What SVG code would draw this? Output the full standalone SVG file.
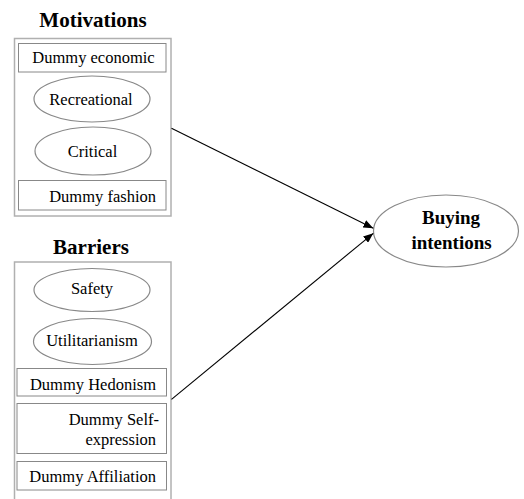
<svg xmlns="http://www.w3.org/2000/svg" width="524" height="499" viewBox="0 0 524 499">
<defs>
<style>
.t{font-family:"Liberation Serif","Times New Roman",serif;font-size:16.5px;fill:#000}
.h{font-family:"Liberation Serif","Times New Roman",serif;font-weight:bold;fill:#000}
.outer{fill:#fff;stroke:#b0b0b0;stroke-width:1.5}
.box{fill:#fff;stroke:#888;stroke-width:1}
.ell{fill:#fff;stroke:#888;stroke-width:1.2}
.edge{stroke:#000;stroke-width:1.1;fill:none;marker-end:url(#ah)}
</style>
<marker id="ah" markerWidth="10" markerHeight="8" refX="10" refY="4" orient="auto" markerUnits="userSpaceOnUse">
<path d="M0,0 L10,4 L0,8 z" fill="#000"/>
</marker>
</defs>
<rect width="524" height="499" fill="#fff"/>

<g id="motivations">
<text class="h" x="93" y="26.5" font-size="21" text-anchor="middle">Motivations</text>
<rect class="outer" x="14.5" y="38.5" width="156.5" height="177.5"/>
</g>
<g id="dummy-economic">
<rect class="box" x="18.5" y="43.5" width="147.5" height="28.5"/>
<text class="t" x="93.5" y="63" text-anchor="middle">Dummy economic</text>
</g>
<g id="recreational">
<ellipse class="ell" cx="92" cy="99" rx="58" ry="23"/>
<text class="t" x="91" y="105" text-anchor="middle">Recreational</text>
</g>
<g id="critical">
<ellipse class="ell" cx="93" cy="151" rx="58" ry="24"/>
<text class="t" x="92.5" y="156.5" text-anchor="middle">Critical</text>
</g>
<g id="dummy-fashion">
<rect class="box" x="18.5" y="180.5" width="147.5" height="29.5"/>
<text class="t" x="156" y="201.5" text-anchor="end">Dummy fashion</text>
</g>

<g id="barriers">
<text class="h" x="91" y="253.5" font-size="21" text-anchor="middle">Barriers</text>
<rect class="outer" x="14.5" y="262" width="156.5" height="245"/>
</g>
<g id="safety">
<ellipse class="ell" cx="92" cy="290" rx="58" ry="21.5"/>
<text class="t" x="92" y="294" text-anchor="middle">Safety</text>
</g>
<g id="utilitarianism">
<ellipse class="ell" cx="92.5" cy="341.5" rx="59" ry="23"/>
<text class="t" x="92" y="346" text-anchor="middle">Utilitarianism</text>
</g>
<g id="dummy-hedonism">
<rect class="box" x="17" y="368.5" width="149.5" height="27.5"/>
<text class="t" x="156" y="389.5" text-anchor="end">Dummy Hedonism</text>
</g>
<g id="dummy-self-expression">
<rect class="box" x="17" y="403.5" width="149.5" height="50"/>
<text class="t" x="159" y="425" text-anchor="end">Dummy Self-</text>
<text class="t" x="156" y="444.5" text-anchor="end">expression</text>
</g>
<g id="dummy-affiliation">
<rect class="box" x="17" y="461.5" width="149.5" height="28.5"/>
<text class="t" x="156" y="482" text-anchor="end">Dummy Affiliation</text>
</g>

<g id="buying-intentions">
<ellipse class="ell" cx="446" cy="231" rx="72.5" ry="36"/>
<text class="h" x="451" y="223.5" font-size="19" text-anchor="middle">Buying</text>
<text class="h" x="451.5" y="248.5" font-size="19" text-anchor="middle">intentions</text>
</g>

<g id="connectors">
<line class="edge" x1="171.5" y1="128.3" x2="373.3" y2="228.3"/>
<line class="edge" x1="171.5" y1="399.3" x2="373.3" y2="233.3"/>
</g>
</svg>
